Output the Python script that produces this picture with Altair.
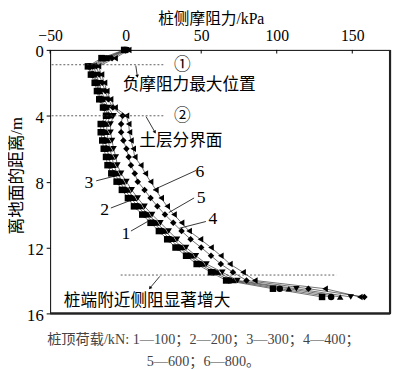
import math
import altair as alt
import pandas as pd

SERIF = "'Liberation Serif', 'Times New Roman', 'DejaVu Serif', serif"
FONT = "'Liberation Serif', 'Times New Roman', 'Noto Sans CJK SC', serif"

# ---------------- data ----------------
depths = [0, 0.5, 1, 1.5, 2, 2.5, 3, 3.5, 4, 4.5, 5, 5.5, 6, 6.5, 7, 7.5,
          8, 8.5, 9, 9.5, 10, 10.5, 11, 11.5, 12, 12.5, 13, 13.5, 14, 14.5, 15]

s1 = [-1, -16, -25, -23, -20.5, -19, -17.5, -15, -13, -16.5, -16.5, -15.5, -14.5, -13, -12, -9.5,
      -6, -2.5, 1.5, 5.5, 11, 16.5, 22, 27.5, 33, 40, 47, 56.5, 66.5, 97.5, 130]
s2 = [-0.5, -14, -24, -22, -19.5, -18, -16.5, -14, -11.5, -14.5, -14.5, -13.5, -12.5, -11, -10, -7.5,
      -4, -0.5, 3.5, 8, 13, 18.5, 24, 29.5, 35.5, 42, 49, 58.5, 69, 102, 136]
s3 = [0, -12.5, -22.5, -21, -18.5, -17, -15.5, -13, -10, -12.5, -12.5, -11.5, -10.5, -9, -8, -5.5,
      -2, 1.5, 5.5, 10, 15, 20.5, 26, 31.5, 37.5, 44, 51, 61, 71.5, 108, 142]
s4 = [0.5, -11, -21, -19.5, -17.5, -16, -14, -11.5, -8, -10, -10, -9, -8, -6.5, -5.5, -3,
      0.5, 4, 8, 12.5, 17.5, 23, 28.5, 34, 40, 46.5, 53.5, 64, 74, 113, 149]
s5 = [1, -9, -19.5, -17.5, -15.5, -13.5, -11.5, -8.5, -2, -3, -3, -1.5, 0.5, 2, 3.5, 6,
      8, 12.5, 16.5, 21, 26, 31.5, 37, 43, 50, 56.5, 63, 71, 80, 121, 158]
s6 = [2, -7, -18, -16, -14, -12.5, -10, -7, 0.5, 2, 2.5, 3.5, 5, 6, 10, 13,
      16.5, 20, 23.5, 27.5, 32, 37, 42, 49.5, 56.5, 63, 69, 77.7, 85.5, 132, 155]

series_names = ["1", "2", "3", "4", "5", "6"]
series_values = [s1, s2, s3, s4, s5, s6]
series_shapes = ["square", "circle", "triangle-up", "triangle-down", "diamond", "triangle-left"]

x_ticks = [-50, 0, 50, 100, 150]
y_ticks = [0, 4, 8, 12, 16]

# dashed reference lines (x from, x to, depth)
dash_x1 = [-49, -49, -3.3]
dash_x2 = [25, 25, 139.4]
dash_y = [0.9, 4.0, 13.67]

# annotation texts (x in kPa, depth in m)
note_text = ["①", "②", "负摩阻力最大位置", "土层分界面", "桩端附近侧阻显著增大"]
note_x = [32, 32, -2.0, 9.0, -40.9]
note_y = [0.9, 4.0, 2.14, 5.54, 15.24]

# curve labels with leader lines
lab_text = ["1", "2", "3", "4", "5", "6"]
lab_x = [0.1, -13.9, -24.4, 57.7, 49.9, 49.2]
lab_y = [11.16, 9.73, 8.07, 10.3, 9.0, 7.44]
lead_x1 = [3.5, -9.8, -19.5, 53.1, 45.3, 46.6]
lead_y1 = [11.0, 9.6, 7.95, 10.42, 8.99, 7.32]
lead_x2 = [14.5, 3.2, -6.6, 35.6, 28.5, 18.1]
lead_y2 = [10.42, 9.14, 7.65, 10.83, 9.88, 8.51]

# arrows
arr_x1 = [6.7, 13.5, 22.6]
arr_y1 = [0.95, 4.05, 13.75]
arr_x2 = [7.7, 19.4, 16.1]
arr_y2 = [1.6, 5.0, 14.46]

caption = ["桩顶荷载/kN: 1—100；2—200；3—300；4—400；", "5—600；6—800。"]

# ---------------- layout ----------------
X_MIN, X_MAX = -50, 175
Y_MIN, Y_MAX = 0, 16
W, H = 347, 269

rows = []
for name, vals in zip(series_names, series_values):
    for d, v in zip(depths, vals):
        rows.append({"series": name, "depth": d, "value": v})
df = pd.DataFrame(rows)

xs = alt.Scale(domain=[X_MIN, X_MAX], nice=False, zero=False)
ys = alt.Scale(domain=[Y_MIN, Y_MAX], nice=False, zero=False, reverse=True)

x_axis = alt.Axis(orient="top", values=x_ticks, title="桩侧摩阻力/kPa", grid=False,
                  ticks=False, domain=False, labelPadding=7, labelFontSize=16,
                  labelFlush=False, labelOverlap=False, titleX=164, titleY=-32,
                  titleBaseline="middle", titleAlign="center", titleFontSize=16)
y_axis = alt.Axis(values=y_ticks, title="离地面的距离/m", grid=False, domain=False,
                  tickSize=4, tickColor="black", labelPadding=3, labelFlush=False,
                  labelOverlap=False, labelOffset=2, titleX=-34, titleY=128,
                  titleBaseline="middle", titleAlign="center", titleAngle=-90)

base = alt.Chart(df)

lines = base.mark_line(color="#333333", strokeWidth=0.7).encode(
    x=alt.X("value:Q", scale=xs, axis=x_axis),
    y=alt.Y("depth:Q", scale=ys, axis=y_axis),
    detail="series:N",
    order="depth:Q",
)

points = base.mark_point(filled=True, color="black", opacity=1, size=44).encode(
    x=alt.X("value:Q", scale=xs),
    y=alt.Y("depth:Q", scale=ys),
    shape=alt.Shape("series:N", scale=alt.Scale(domain=series_names, range=series_shapes),
                    legend=None),
)

dash_df = pd.DataFrame({"x": dash_x1, "x2": dash_x2, "y": dash_y})
dashes = alt.Chart(dash_df).mark_rule(color="#333333", strokeWidth=0.8, strokeDash=[2, 2]).encode(
    x=alt.X("x:Q", scale=xs), x2="x2:Q", y=alt.Y("y:Q", scale=ys))

note_df = pd.DataFrame({"x": note_x, "y": note_y, "t": note_text})
notes = alt.Chart(note_df).mark_text(align="left", baseline="middle", font=FONT,
                                     fontSize=17, color="black").encode(
    x=alt.X("x:Q", scale=xs), y=alt.Y("y:Q", scale=ys), text="t:N")

lab_df = pd.DataFrame({"x": lab_x, "y": lab_y, "t": lab_text})
labs = alt.Chart(lab_df).mark_text(align="center", baseline="middle", font=SERIF,
                                   fontSize=18, color="black").encode(
    x=alt.X("x:Q", scale=xs), y=alt.Y("y:Q", scale=ys), text="t:N")

lead_df = pd.DataFrame({"x": lead_x1 + arr_x1, "y": lead_y1 + arr_y1,
                        "x2": lead_x2 + arr_x2, "y2": lead_y2 + arr_y2})
leads = alt.Chart(lead_df).mark_rule(color="black", strokeWidth=0.8).encode(
    x=alt.X("x:Q", scale=xs), y=alt.Y("y:Q", scale=ys), x2="x2:Q", y2="y2:Q")

px_per_x = W / (X_MAX - X_MIN)
px_per_y = H / (Y_MAX - Y_MIN)
angles = []
for a, b, c, d in zip(arr_x1, arr_y1, arr_x2, arr_y2):
    dx = (c - a) * px_per_x
    dy = (d - b) * px_per_y
    angles.append(math.degrees(math.atan2(dx, -dy)) % 360)
head_df = pd.DataFrame({"x": arr_x2, "y": arr_y2, "a": angles})
heads = alt.Chart(head_df).mark_point(shape="triangle-up", filled=True, color="black",
                                      opacity=1, size=14).encode(
    x=alt.X("x:Q", scale=xs), y=alt.Y("y:Q", scale=ys),
    angle=alt.Angle("a:Q", scale=None))

tick_df = pd.DataFrame({"x": x_ticks})
top_ticks = alt.Chart(tick_df).mark_rule(color="black", strokeWidth=1).encode(
    x=alt.X("x:Q", scale=xs), y=alt.datum(0, scale=ys), y2=alt.datum(0.22))

frame_df = pd.DataFrame({"x": [X_MAX, X_MIN], "x2": [X_MAX, X_MAX],
                         "y": [Y_MIN, Y_MAX], "y2": [Y_MAX, Y_MAX]})
frame = alt.Chart(frame_df).mark_rule(color="#222222", strokeWidth=2.2).encode(
    x=alt.X("x:Q", scale=xs), x2="x2:Q", y=alt.Y("y:Q", scale=ys), y2="y2:Q")

chart = alt.layer(lines, points, dashes, leads, heads, notes, labs, top_ticks, frame).properties(
    width=W, height=H,
    autosize=alt.AutoSizeParams(type="none"),
    padding={"left": 43, "top": 39, "right": 2, "bottom": 54},
    title=alt.TitleParams(text=caption, orient="bottom", anchor="middle", font=FONT,
                          fontSize=14.5, fontWeight="normal", color="#444444",
                          lineHeight=23, dx=-17, offset=10),
).configure_view(stroke="black", strokeWidth=1).configure_axis(
    labelFont=SERIF, labelFontSize=17, labelColor="black",
    titleFont=FONT, titleFontSize=17, titleFontWeight="normal", titleColor="black",
)

chart.save("out.html", embed_options={"renderer": "svg", "actions": False})
